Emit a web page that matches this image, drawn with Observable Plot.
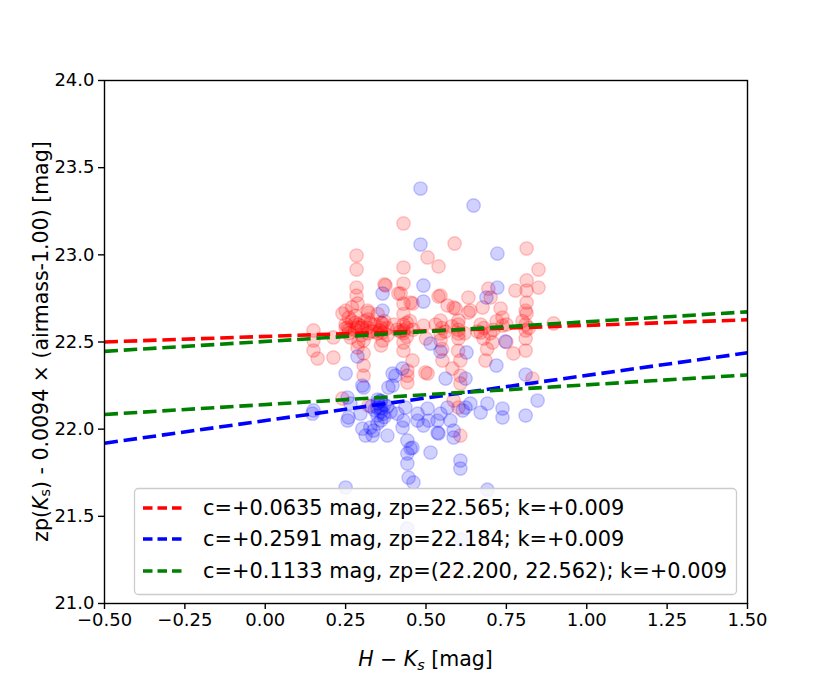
<!DOCTYPE html>
<html><head><meta charset="utf-8">
<script src="https://cdn.jsdelivr.net/npm/d3@7"></script>
<script src="https://cdn.jsdelivr.net/npm/@observablehq/plot@0.6"></script>
<style>body{margin:0;background:#fff;} svg{display:block;}</style>
</head><body><div id="chart"></div>
<script>
// ---- data: red sample (colour H-Ks, zero point) ----
const redColor = [0.43,0.284,0.284,0.43,0.505,0.539,0.589,0.813,0.85,0.371,0.43,0.284,0.421,0.458,0.24,0.318,0.287,0.284,0.321,0.492,
0.15,0.15,0.15,0.163,0.212,0.212,0.813,0.813,0.813,0.813,0.778,0.85,0.694,0.632,0.539,0.586,0.732,0.738,0.632,0.676,
0.897,0.374,0.414,0.452,0.545,0.701,0.567,0.592,0.545,0.601,0.638,0.738,0.67,0.679,0.601,0.601,0.545,0.545,0.43,0.43,
0.365,0.365,0.365,0.327,0.81,0.81,0.81,0.81,0.772,0.707,0.685,0.607,0.551,0.498,0.442,0.442,0.582,0.607,0.607,0.831,
0.458,0.256,0.287,0.318,0.265,0.306,0.287,0.306,0.306,0.306,0.358,0.442,0.505,0.586,0.601,0.607,0.24,0.321,0.592,
0.25,0.25,0.26,0.27,0.28,0.29,0.30,0.30,0.31,0.33,0.34,0.35,0.36,0.37,0.38,0.43,0.43,0.44,0.44,0.45,
0.55,0.56,0.60,0.60,0.66,0.68,0.70,0.75,0.81,0.82,0.25,0.27,0.28,0.35,0.43,0.43,0.36,0.29,0.43,0.55,
0.60,0.69,0.75,0.72,0.26,0.32,0.40,0.41,0.50,0.53,
0.26,0.28,0.30,0.32,0.34,0.36,0.38,0.42,0.44,0.46,0.58,0.62,0.67,0.71,0.80];
const redZp = [23.18,22.996,22.916,22.927,22.985,22.933,23.065,23.036,22.916,22.83,22.835,22.812,22.778,22.721,22.663,22.68,22.721,22.766,22.669,22.594,
22.566,22.508,22.451,22.405,22.411,22.526,22.853,22.795,22.726,22.663,22.795,22.812,22.806,22.755,22.761,22.698,22.692,22.64,22.669,22.698,
22.606,22.824,22.778,22.726,22.766,22.755,22.709,22.692,22.623,22.623,22.68,22.594,22.554,22.52,22.548,22.52,22.548,22.508,22.566,22.497,
22.606,22.554,22.508,22.606,22.68,22.566,22.52,22.451,22.434,22.497,22.394,22.394,22.394,22.325,22.336,22.267,22.348,22.307,22.262,22.29,
22.394,22.583,22.583,22.583,22.526,22.508,22.468,22.434,22.365,22.307,22.566,22.307,22.319,22.164,22.124,21.963,22.176,22.135,21.183,
22.60,22.58,22.55,22.62,22.57,22.60,22.54,22.58,22.62,22.56,22.60,22.55,22.58,22.62,22.54,22.60,22.55,22.58,22.53,22.62,
22.58,22.56,22.60,22.57,22.56,22.58,22.55,22.60,22.60,22.58,22.68,22.70,22.65,22.66,22.66,22.72,22.48,22.50,22.45,22.46,
22.45,22.46,22.50,22.62,22.64,22.55,22.60,22.57,22.52,22.60,
22.57,22.61,22.59,22.63,22.56,22.61,22.58,22.56,22.61,22.57,22.59,22.55,22.60,22.57,22.62];

// ---- data: blue sample ----
const blueColor = [0.483,0.648,0.483,0.722,0.365,0.365,0.492,0.492,0.722,0.688,0.747,0.545,0.626,0.719,0.396,0.427,0.561,0.623,0.81,0.287,
0.25,0.302,0.405,0.514,0.306,0.396,0.436,0.358,0.256,0.15,0.256,0.296,0.349,0.349,0.349,0.368,0.327,0.302,0.312,0.334,
0.38,0.411,0.427,0.474,0.505,0.508,0.545,0.536,0.536,0.567,0.576,0.586,0.614,0.638,0.67,0.691,0.738,0.738,0.81,0.847,
0.442,0.452,0.442,0.514,0.442,0.446,0.461,0.607,0.607,0.25,0.691,0.623,0.539,0.586,0.458,0.147,0.259,0.265,0.337,0.43,
0.474,0.492,0.383,0.442,0.61,
0.36,0.36,0.37,0.35,0.37,0.34,0.38,0.36,0.35,0.39,0.36,0.33];
const blueZp = [23.38,23.283,23.059,23.007,22.778,22.68,22.824,22.732,22.812,22.755,22.503,22.445,22.44,22.365,22.319,22.348,22.29,22.29,22.313,22.417,
22.319,22.25,22.307,22.491,22.239,22.25,22.124,22.164,22.181,22.107,22.049,22.089,22.124,22.078,22.032,22.089,22.009,22.003,21.963,21.963,
21.963,22.089,22.009,22.089,22.118,22.049,22.089,22.049,21.98,22.124,22.049,21.992,22.107,22.147,22.095,22.147,22.118,22.067,22.078,22.164,
21.935,21.889,21.86,21.866,21.803,21.722,21.694,21.82,21.774,21.665,21.653,22.124,21.975,21.952,21.894,22.089,22.067,22.147,21.992,22.049,
22.049,22.021,22.239,21.43,21.367,
22.12,22.10,22.14,22.15,22.07,22.11,22.13,22.05,22.17,22.10,22.16,22.13];

// ---- fitted lines (from the legend parameters) ----
const fitColors = ["red", "blue", "green", "green"];
const fitSlopes = [0.0635, 0.2591, 0.1133, 0.1133];
const fitZps = [22.565, 22.184, 22.562, 22.200];
const fitRefColor = 0.52;
const fitRange = [-0.5, 1.5];

// ---- legend / ticks ----
const legendColors = ["red", "blue", "green"];
const legendLabels = [
  "c=+0.0635 mag, zp=22.565; k=+0.009",
  "c=+0.2591 mag, zp=22.184; k=+0.009",
  "c=+0.1133 mag, zp=(22.200, 22.562); k=+0.009"
];
const xTicks = [-0.5, -0.25, 0, 0.25, 0.5, 0.75, 1.0, 1.25, 1.5];
const yTicks = [21.0, 21.5, 22.0, 22.5, 23.0, 23.5, 24.0];

const red = redColor.map((c, i) => ({c, zp: redZp[i]}));
const blue = blueColor.map((c, i) => ({c, zp: blueZp[i]}));
const fits = fitColors.flatMap((col, i) => fitRange.map(x => ({x, y: fitZps[i] + fitSlopes[i] * (x - fitRefColor), id: i, col})));

const FONT = "DejaVu Sans";
const W = 830, H = 680, ML = 104, MR = 83, MT = 80, MB = 77;
const TICKFS = 18, LABELFS = 20.5, LEGFS = 20.9;

const svg = Plot.plot({
  width: W, height: H,
  marginLeft: ML, marginRight: MR, marginTop: MT, marginBottom: MB,
  style: {fontFamily: FONT, fontSize: TICKFS + "px", color: "black", background: "white"},
  x: {domain: [-0.5, 1.5]},
  y: {domain: [21, 24]},
  marks: [
    Plot.dot(red, {x: "c", y: "zp", r: 6.7, fill: "red", fillOpacity: 0.18, stroke: "red", strokeOpacity: 0.2, strokeWidth: 1.4}),
    Plot.dot(blue, {x: "c", y: "zp", r: 6.7, fill: "blue", fillOpacity: 0.18, stroke: "blue", strokeOpacity: 0.2, strokeWidth: 1.4}),
    Plot.line(fits, {x: "x", y: "y", z: "id", stroke: "col", strokeWidth: 3.6, strokeDasharray: "13.5,5.8", strokeLinecap: "butt"}),
    Plot.frame({stroke: "black", strokeWidth: 1.4}),
    Plot.axisX({ticks: xTicks, tickFormat: d3.format(".2f"), tickSize: 6, tickPadding: 4, label: null, fontSize: TICKFS, strokeWidth: 1.4}),
    Plot.axisY({ticks: yTicks, tickFormat: d3.format(".1f"), tickSize: 6, tickPadding: 4, label: null, fontSize: TICKFS, strokeWidth: 1.4})
  ]
});
document.getElementById("chart").appendChild(svg);

const s = d3.select(svg);
// y label
const yl = s.append("text")
  .attr("transform", `translate(41,${(MT + H - MB) / 2}) rotate(-90)`)
  .attr("text-anchor", "middle").attr("dominant-baseline", "central")
  .attr("font-family", FONT).attr("font-size", LABELFS).attr("fill", "black");
yl.append("tspan").text("zp(");
yl.append("tspan").attr("font-style", "italic").text("K");
yl.append("tspan").attr("font-size", LABELFS * 0.7).attr("dy", 4).text("s");
yl.append("tspan").attr("dy", -4).text(") - 0.0094 × (airmass-1.00) [mag]");
// x label
const xl = s.append("text")
  .attr("x", (ML + W - MR) / 2).attr("y", 666)
  .attr("text-anchor", "middle")
  .attr("font-family", FONT).attr("font-size", LABELFS).attr("fill", "black");
xl.append("tspan").attr("font-style", "italic").text("H");
xl.append("tspan").text(" − ");
xl.append("tspan").attr("font-style", "italic").text("K");
xl.append("tspan").attr("font-style", "italic").attr("font-size", LABELFS * 0.7).attr("dy", 4).text("s");
xl.append("tspan").attr("dy", -4).text(" [mag]");

// legend
const lg = s.append("g");
lg.append("rect").attr("x", 134.5).attr("y", 488.5).attr("width", 602).attr("height", 106).attr("rx", 4)
  .attr("fill", "white").attr("fill-opacity", 0.8).attr("stroke", "#cccccc").attr("stroke-width", 1.3);
const rowY = [508, 539, 571];
legendLabels.forEach((t, i) => {
  lg.append("line").attr("x1", 143).attr("x2", 186).attr("y1", rowY[i]).attr("y2", rowY[i])
    .attr("stroke", legendColors[i]).attr("stroke-width", 3.6).attr("stroke-dasharray", "9.5,5");
  lg.append("text").attr("x", 203).attr("y", rowY[i]).attr("dominant-baseline", "central")
    .attr("text-anchor", "start")
    .attr("font-family", FONT).attr("font-size", LEGFS).attr("fill", "black").text(t);
});
</script>
</body></html>
